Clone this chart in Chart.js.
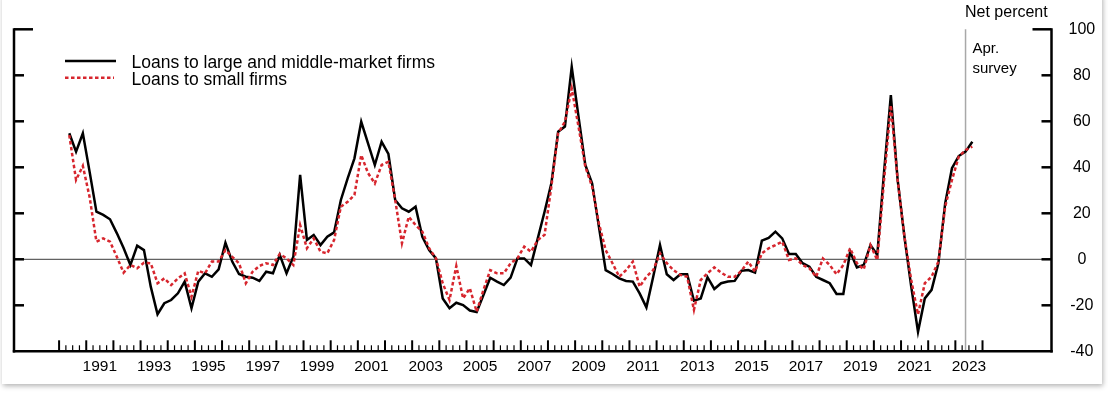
<!DOCTYPE html>
<html>
<head>
<meta charset="utf-8">
<script src="https://cdn.jsdelivr.net/npm/chart.js@4.4.0/dist/chart.umd.min.js"></script>
<style>
    html, body { margin: 0; padding: 0; background: #fff; }
    #card {
        position: absolute; left: 2px; top: -6px; width: 1100px; height: 390px;
        background: #fff; box-shadow: 1px 2px 5px rgba(0, 0, 0, 0.3);
    }
    #chart { position: absolute; left: 0; top: 0; }
</style>
</head>
<body>
<div id="card"></div>
<canvas id="chart" width="1108" height="394"></canvas>
<script>
// Quarterly survey results, 1990:Q2 through 2023:Q3
const startYear = 1990;
const startQuarter = 2;

// Net percent of banks tightening standards, loans to large and middle-market firms
const largeFirms = [
    54.8, 46.8, 54.8, 38.0, 20.7, 19.3, 17.4, 11.4, 4.9, -2.5,
    5.9, 4.0, -11.9, -23.9, -19.1, -17.7, -14.8, -9.7, -21.3, -9.7,
    -6.1, -7.6, -4.4, 7.2, -1.0, -6.4, -7.6, -8.0, -9.4, -5.4,
    -6.1, 1.9, -6.1, 1.1, 36.7, 8.4, 10.6, 6.2, 9.8, 11.7,
    25.8, 35.2, 43.9, 59.8, 50.4, 41.0, 51.1, 45.8, 25.8, 22.2,
    20.7, 22.9, 9.8, 4.0, 0.4, -17.0, -21.3, -18.9, -19.9, -22.3,
    -22.9, -15.5, -8.0, -9.7, -11.2, -8.0, 0.4, 0.4, -2.5, 9.1,
    20.7, 33.0, 55.5, 57.7, 83.7, 62.0, 41.0, 33.0, 14.2, -4.7,
    -6.4, -8.3, -9.4, -9.7, -14.8, -20.9, -7.6, 6.2, -6.5, -9.0,
    -6.5, -6.5, -18.0, -17.0, -7.8, -12.9, -10.4, -9.7, -9.4, -5.0,
    -4.7, -5.8, 8.1, 9.3, 12.0, 9.1, 2.3, 2.3, -1.7, -3.2,
    -7.6, -9.0, -10.4, -15.1, -15.1, 3.3, -3.5, -2.5, 6.2, 1.9,
    38.0, 71.4, 34.5, 9.8, -11.9, -31.5, -17.0, -13.3, -1.7, 24.3,
    39.6, 44.9, 46.8, 51.1
];

// Net percent of banks tightening standards, loans to small firms
const smallFirms = [
    54.0, 34.5, 40.6, 27.0, 7.7, 9.1, 7.7, 1.1, -5.8, -2.5,
    -3.9, -1.5, -1.7, -10.4, -8.3, -11.2, -8.3, -6.1, -16.3, -5.0,
    -6.1, -1.0, -1.0, 4.0, 1.1, -1.7, -10.4, -5.4, -2.9, -1.7,
    -2.5, 2.3, 0.4, -2.5, 14.9, 4.8, 9.1, 3.3, 2.6, 8.4,
    22.9, 25.0, 28.0, 45.3, 37.5, 33.0, 41.0, 42.4, 25.8, 7.0,
    18.5, 14.9, 12.0, 4.8, 0.4, -10.4, -17.7, -2.9, -17.0, -12.6,
    -22.8, -13.3, -4.7, -6.1, -6.1, -1.7, 0.4, 5.5, 3.3, 8.4,
    10.6, 31.6, 54.8, 59.8, 74.3, 57.7, 40.3, 31.6, 15.7, 4.0,
    -1.7, -7.6, -4.7, -1.0, -11.9, -7.6, -4.7, 2.6, -1.7, -4.7,
    -6.8, -7.6, -22.0, -9.0, -6.1, -3.5, -5.8, -7.6, -7.6, -5.0,
    -1.0, -5.4, 2.6, 4.8, 6.2, 7.7, -0.3, 0.4, -2.5, -3.9,
    -7.6, 0.4, -2.5, -6.5, -2.5, 4.8, -1.7, -4.4, 6.2, -0.3,
    34.5, 67.0, 34.5, 9.8, -9.0, -24.0, -10.4, -7.6, -1.0, 22.9,
    34.5, 44.6, 47.5, 49.0
];

const yearLabels = [1991, 1993, 1995, 1997, 1999, 2001, 2003, 2005, 2007,
    2009, 2011, 2013, 2015, 2017, 2019, 2021, 2023];
const yTicks = [-40, -20, 0, 20, 40, 60, 80, 100];
const seriesNames = ['Loans to large and middle-market firms', 'Loans to small firms'];
const surveyQuarter = 2023.375; // April survey

const FONT = '"Liberation Sans", Arial, sans-serif';
const RED = '#d7262e';

// middle of each quarter on a decimal-year axis
function quarterX(i) {
    const q = startQuarter - 1 + i;
    return startYear + Math.floor(q / 4) + ((q % 4) + 0.5) / 4;
}

function line(ctx, x1, y1, x2, y2) {
    ctx.beginPath();
    ctx.moveTo(x1, y1);
    ctx.lineTo(x2, y2);
    ctx.stroke();
}

const decorations = {
    id: 'decorations',
    beforeDatasetsDraw(chart) {
        const { ctx, chartArea: a, scales: { x, y } } = chart;
        ctx.save();
        ctx.strokeStyle = '#3a3a3a';
        ctx.lineWidth = 1;
        const y0 = y.getPixelForValue(0);
        line(ctx, a.left, y0, a.right, y0);

        const xs = x.getPixelForValue(surveyQuarter);
        ctx.strokeStyle = '#a8a8a8';
        ctx.lineWidth = 1.5;
        line(ctx, xs, a.top, xs, a.bottom);
        ctx.restore();
    },
    afterDatasetsDraw(chart) {
        const { ctx, chartArea: a, scales: { x, y } } = chart;
        ctx.save();
        ctx.strokeStyle = '#000';
        ctx.lineCap = 'butt';

        // frame
        ctx.lineWidth = 2.5;
        line(ctx, a.left, a.top - 1, a.left, a.bottom + 1.2);
        line(ctx, a.right, a.top - 1, a.right, a.bottom + 1.2);
        line(ctx, a.left - 1.2, a.bottom, a.right + 1.2, a.bottom);

        // value ticks on both sides
        yTicks.forEach(v => {
            if (v === yTicks[0]) return;
            const py = y.getPixelForValue(v);
            const len = v === yTicks[yTicks.length - 1] ? 19 : 10;
            ctx.lineWidth = 2.5;
            line(ctx, a.left, py, a.left + len, py);
            line(ctx, a.right, py, a.right - len, py);
        });

        // quarterly ticks along the bottom
        for (let t = startYear; t <= 2024; t += 0.25) {
            const px = x.getPixelForValue(t);
            const major = Math.abs(t - Math.round(t)) < 1e-6;
            ctx.lineWidth = major ? 2 : 1.2;
            line(ctx, px, a.bottom, px, a.bottom - (major ? 11 : 6));
        }

        // legend
        ctx.lineWidth = 2.5;
        line(ctx, 65, 61, 116, 61);
        ctx.strokeStyle = RED;
        ctx.setLineDash([3.5, 2.5]);
        line(ctx, 65, 77.7, 114, 77.7);
        ctx.setLineDash([]);

        ctx.fillStyle = '#000';
        ctx.textBaseline = 'alphabetic';
        ctx.textAlign = 'left';
        ctx.font = '17.5px ' + FONT;
        ctx.fillText(seriesNames[0], 131.5, 67.7);
        ctx.fillText(seriesNames[1], 131.5, 84.5);

        ctx.font = '16px ' + FONT;
        ctx.fillText('Net percent', 965, 17.3);
        ctx.font = '15px ' + FONT;
        ctx.fillText('Apr.', 972.5, 53.3);
        ctx.fillText('survey', 972.5, 72.7);
        ctx.restore();
    }
};

const ctx = document.getElementById('chart').getContext('2d');
new Chart(ctx, {
    type: 'line',
    data: {
        datasets: [{
            label: seriesNames[1],
            data: smallFirms.map((v, i) => ({ x: quarterX(i), y: v })),
            borderColor: RED,
            borderWidth: 2.5,
            borderDash: [3.5, 2.5],
            pointRadius: 0,
            tension: 0
        }, {
            label: seriesNames[0],
            data: largeFirms.map((v, i) => ({ x: quarterX(i), y: v })),
            borderColor: '#000',
            borderWidth: 2.5,
            pointRadius: 0,
            tension: 0
        }]
    },
    options: {
        responsive: false,
        animation: false,
        devicePixelRatio: 1,
        layout: { padding: { left: 14, top: 29.3, right: 0, bottom: 0 } },
        plugins: {
            legend: { display: false },
            tooltip: { enabled: false }
        },
        scales: {
            x: {
                type: 'linear',
                min: 1988.34,
                max: 2026.54,
                grid: { display: false, drawTicks: false },
                border: { display: false },
                afterBuildTicks: scale => {
                    scale.ticks = yearLabels.map(v => ({ value: v + 0.5 }));
                },
                afterFit: scale => { scale.height = 42.7; },
                ticks: {
                    autoSkip: false,
                    maxRotation: 0,
                    padding: 6,
                    color: '#000',
                    font: { family: FONT, size: 15.5 },
                    callback: v => String(Math.floor(v))
                }
            },
            y: {
                position: 'right',
                min: -40,
                max: 100,
                grid: { display: false, drawTicks: false },
                border: { display: false },
                afterBuildTicks: scale => {
                    scale.ticks = yTicks.map(v => ({ value: v }));
                },
                afterFit: scale => { scale.width = 56.5; },
                ticks: {
                    crossAlign: 'center',
                    padding: 17,
                    color: '#000',
                    font: { family: FONT, size: 16 }
                }
            }
        }
    },
    plugins: [decorations]
});
</script>
</body>
</html>
